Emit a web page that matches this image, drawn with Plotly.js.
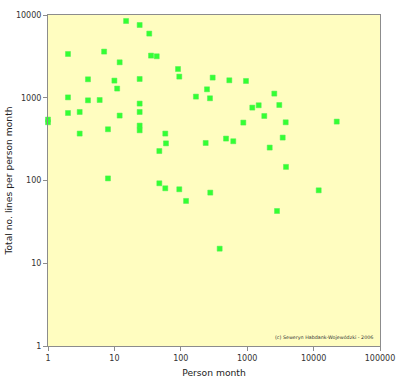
<!DOCTYPE html>
<html>
<head>
<meta charset="utf-8">
<script src="https://cdn.plot.ly/plotly-3.0.1.min.js"></script>
<style>
  html, body { margin: 0; padding: 0; background: #ffffff; }
  #chart { width: 400px; height: 387px; }
</style>
</head>
<body>
<div id="chart"></div>
<script>
// Person month (x) for each project
const personMonth = [
  1, 1, 2, 2, 2, 3, 3, 4, 4, 6,
  7, 8, 8, 10, 11, 12, 12, 15, 24, 24,
  24, 24, 24, 24, 33.5, 35.6, 43.4, 47.5, 47.5, 58.4,
  59.8, 58.4, 90.8, 94.9, 94.9, 120, 169, 302, 538, 959,
  248, 275, 2560, 1194, 1490, 3043, 1809, 874, 3800, 22300,
  237, 480, 617, 3425, 2183, 3840, 278, 11930, 2812, 385
];
// Total number of lines per person month
const linesPerPersonMonth = [
  545, 505, 3380, 1010, 654, 673, 369, 1671, 931, 939,
  3612, 416, 106, 1611, 1291, 2681, 609, 8463, 7570, 1686,
  850, 673, 461, 404, 5960, 3230, 3170, 227, 92.5, 369,
  281, 80.5, 2225, 1801, 78.3, 56.6, 1032, 1752, 1625, 1594,
  1265, 985, 1122, 760, 811, 817, 602, 501, 505, 515,
  284, 321, 298, 330, 250, 146, 71.4, 76.1, 42.8, 15.0
];

const xTickVals = [1, 10, 100, 1000, 10000, 100000];
const xTickText = ['1', '10', '100', '1000', '10000', '100000'];
const yTickVals = [1, 10, 100, 1000, 10000];
const yTickText = ['1', '10', '100', '1000', '10000'];

const xTitle = 'Person month';
const yTitle = 'Total no. lines per person month';
const credit = '(c) Seweryn Habdank-Wojewódzki - 2006';

const FONT = 'DejaVu Sans, Verdana, sans-serif';

const trace = {
  type: 'scatter',
  mode: 'markers',
  x: personMonth,
  y: linesPerPersonMonth,
  cliponaxis: false,
  marker: {
    symbol: 'square',
    size: 5,
    color: '#33ff33',
    line: { width: 1, color: 'rgba(80,240,80,0.5)' }
  },
  hoverinfo: 'x+y'
};

const axisCommon = {
  type: 'log',
  showgrid: false,
  zeroline: false,
  showline: true,
  mirror: true,
  linecolor: '#8c8c8c',
  linewidth: 1,
  ticks: 'outside',
  ticklen: 4,
  tickwidth: 1,
  tickcolor: '#8c8c8c',
  tickfont: { family: FONT, size: 8, color: '#333333' },
  tickmode: 'array'
};

const layout = {
  width: 400,
  height: 387,
  margin: { l: 48, r: 20, t: 15, b: 41, pad: 0 },
  paper_bgcolor: '#ffffff',
  plot_bgcolor: '#fffdc0',
  showlegend: false,
  font: { family: FONT, color: '#333333' },
  xaxis: Object.assign({}, axisCommon, {
    range: [0, 5],
    tickvals: xTickVals,
    ticktext: xTickText,
    title: { text: xTitle, font: { family: FONT, size: 9.2, color: '#222222' }, standoff: 7 }
  }),
  yaxis: Object.assign({}, axisCommon, {
    range: [0, 4],
    tickvals: yTickVals,
    ticktext: yTickText,
    title: { text: yTitle, font: { family: FONT, size: 9.2, color: '#222222' }, standoff: 1 }
  }),
  annotations: [{
    text: credit,
    xref: 'paper', yref: 'paper',
    x: 0.985, y: 0.025,
    xanchor: 'right', yanchor: 'middle',
    showarrow: false,
    font: { family: FONT, size: 4.8, color: '#333333' }
  }]
};

Plotly.newPlot('chart', [trace], layout, { displayModeBar: false, staticPlot: true });
</script>
</body>
</html>
